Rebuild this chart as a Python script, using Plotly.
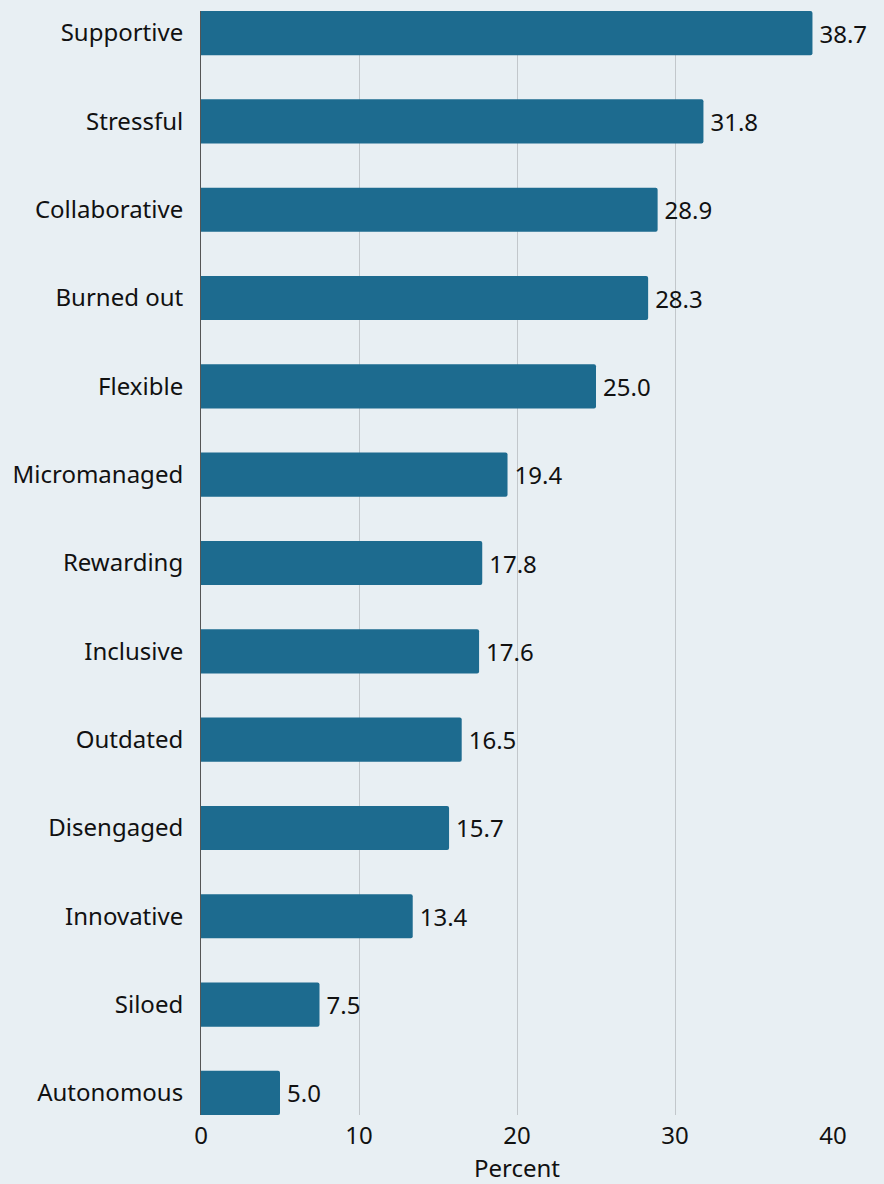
import plotly.graph_objects as go

categories = ["Supportive", "Stressful", "Collaborative", "Burned out", "Flexible",
              "Micromanaged", "Rewarding", "Inclusive", "Outdated", "Disengaged",
              "Innovative", "Siloed", "Autonomous"]
percent = [38.7, 31.8, 28.9, 28.3, 25.0, 19.4, 17.8, 17.6, 16.5, 15.7, 13.4, 7.5, 5.0]
x_ticks = [0, 10, 20, 30, 40]

BG = "#e8eff3"
BAR = "#1d6b8f"
FONT = "Noto Sans"
FS = 24

fig = go.Figure(go.Bar(
    x=percent,
    y=categories,
    orientation="h",
    width=0.5,
    marker=dict(color=BAR, line=dict(width=0)),
    texttemplate="\u2009%{x:.1f}",
    textposition="outside",
    textfont=dict(family=FONT, size=FS, color="#111111"),
    cliponaxis=False,
))

fig.update_layout(
    width=884, height=1184,
    margin=dict(l=201, r=51, t=11, b=69, autoexpand=False),
    paper_bgcolor=BG, plot_bgcolor=BG,
    font=dict(family=FONT, size=FS, color="#111111"),
    barcornerradius=2,
    showlegend=False,
)
fig.update_xaxes(
    range=[0, 40],
    tickvals=x_ticks,
    showgrid=True, gridcolor="#c2c7cb", gridwidth=1,
    zeroline=False,
    showline=False,
    ticks="",
    automargin=False,
    ticklabelstandoff=4,
    title=dict(text="Percent", font=dict(size=FS), standoff=18),
    tickfont=dict(size=FS),
)
fig.update_yaxes(
    categoryorder="array",
    categoryarray=categories[::-1],
    range=[-0.25, 12.25],
    showgrid=False,
    showline=True, linecolor="#555555", linewidth=1,
    ticks="",
    automargin=False,
    ticklabelstandoff=12,
    tickfont=dict(size=FS),
)

fig.write_html("out.html")
